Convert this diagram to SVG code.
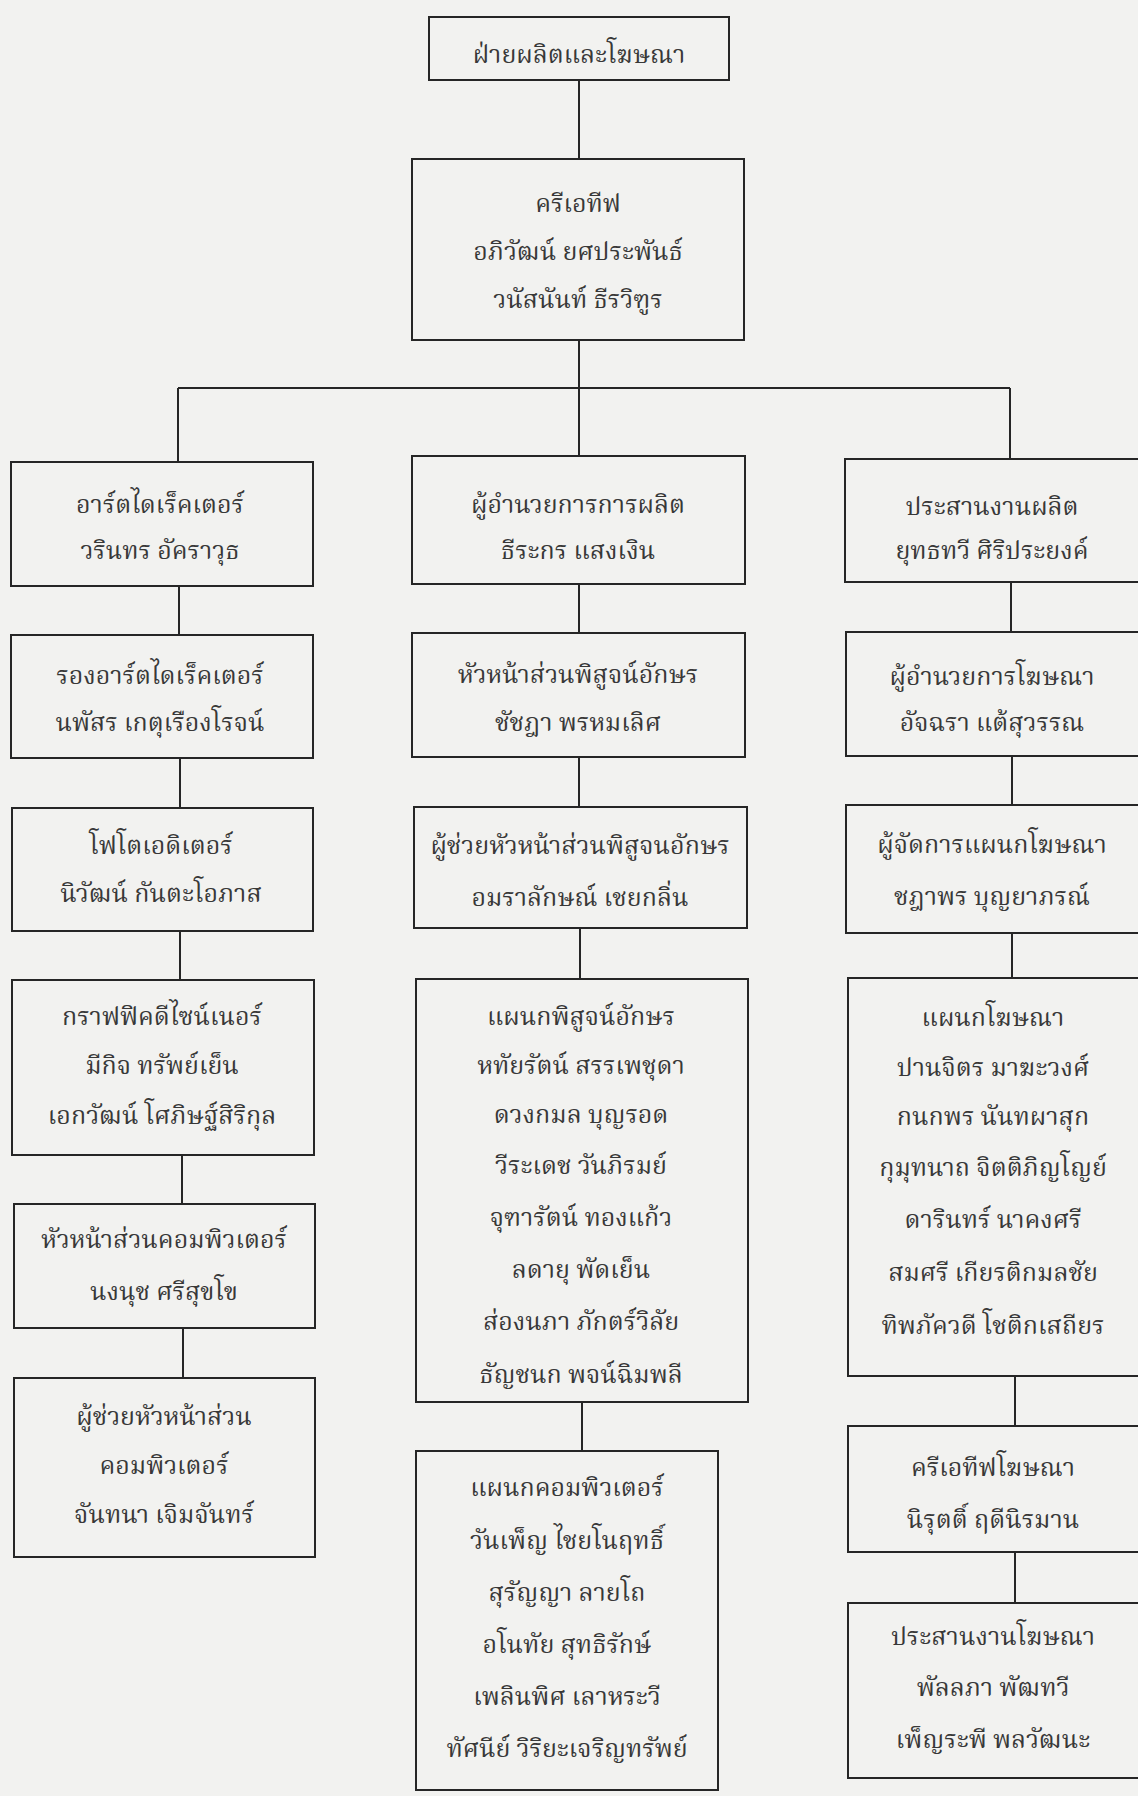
<svg xmlns="http://www.w3.org/2000/svg" width="1138" height="1796" viewBox="0 0 1138 1796">
<style>
.bg{fill:#f2f2f0}
.box{fill:none;stroke:#262626;stroke-width:2}
.ln{fill:none;stroke:#262626;stroke-width:2}
text{font-family:"Liberation Serif","DejaVu Serif","Noto Serif Thai","Noto Sans",serif;font-size:25px;fill:#383838;text-anchor:middle}
</style>
<rect class="bg" x="0" y="0" width="1138" height="1796"/>
<g id="connectors">
<path class="ln" d="M579 80V159M579 340V388M178 388H1010M178 388V462M579 388V456M1010 388V459"/>
<path class="ln" d="M179 586V635M180 758V808M180 931V980M182 1155V1204M183 1328V1378"/>
<path class="ln" d="M579 584V633M579 757V807M580 928V979M582 1402V1451"/>
<path class="ln" d="M1011 582V632M1012 756V805M1012 933V978M1015 1376V1426M1015 1552V1603"/>
</g>
<g id="n-top"><rect class="box" x="429" y="17" width="300" height="63"/><text x="579" y="63">ฝ่ายผลิตและโฆษณา</text></g>
<g id="n-creative"><rect class="box" x="412" y="159" width="332" height="181"/>
<text x="578" y="212">ครีเอทีฟ</text><text x="578" y="260">อภิวัฒน์ ยศประพันธ์</text><text x="578" y="308">วนัสนันท์ ธีรวิฑูร</text></g>

<g id="n-l1"><rect class="box" x="11" y="462" width="302" height="124"/><text x="160" y="513">อาร์ตไดเร็คเตอร์</text><text x="160" y="559">วรินทร อัคราวุธ</text></g>
<g id="n-l2"><rect class="box" x="11" y="635" width="302" height="123"/><text x="160" y="684">รองอาร์ตไดเร็คเตอร์</text><text x="160" y="731">นพัสร เกตุเรืองโรจน์</text></g>
<g id="n-l3"><rect class="box" x="12" y="808" width="301" height="123"/><text x="161" y="854">โฟโตเอดิเตอร์</text><text x="161" y="902">นิวัฒน์ กันตะโอภาส</text></g>
<g id="n-l4"><rect class="box" x="12" y="980" width="302" height="175"/><text x="162" y="1025">กราฟฟิคดีไซน์เนอร์</text><text x="162" y="1074">มีกิจ ทรัพย์เย็น</text><text x="162" y="1124">เอกวัฒน์ โศภิษฐ์สิริกุล</text></g>
<g id="n-l5"><rect class="box" x="14" y="1204" width="301" height="124"/><text x="164" y="1248">หัวหน้าส่วนคอมพิวเตอร์</text><text x="164" y="1300">นงนุช ศรีสุขโข</text></g>
<g id="n-l6"><rect class="box" x="14" y="1378" width="301" height="179"/><text x="164" y="1425">ผู้ช่วยหัวหน้าส่วน</text><text x="164" y="1474">คอมพิวเตอร์</text><text x="164" y="1523">จันทนา เจิมจันทร์</text></g>

<g id="n-m1"><rect class="box" x="412" y="456" width="333" height="128"/><text x="578" y="513">ผู้อำนวยการการผลิต</text><text x="578" y="559">ธีระกร แสงเงิน</text></g>
<g id="n-m2"><rect class="box" x="412" y="633" width="333" height="124"/><text x="578" y="683">หัวหน้าส่วนพิสูจน์อักษร</text><text x="578" y="731">ชัชฎา พรหมเลิศ</text></g>
<g id="n-m3"><rect class="box" x="414" y="807" width="333" height="121"/><text x="580" y="854">ผู้ช่วยหัวหน้าส่วนพิสูจนอักษร</text><text x="580" y="906">อมราลักษณ์ เชยกลิ่น</text></g>
<g id="n-m4"><rect class="box" x="416" y="979" width="332" height="423"/>
<text x="581" y="1025">แผนกพิสูจน์อักษร</text><text x="581" y="1074">หทัยรัตน์ สรรเพชุดา</text><text x="581" y="1123">ดวงกมล บุญรอด</text><text x="581" y="1174">วีระเดช วันภิรมย์</text><text x="581" y="1226">จุฑารัตน์ ทองแก้ว</text><text x="581" y="1278">ลดายุ พัดเย็น</text><text x="581" y="1330">ส่องนภา ภักตร์วิลัย</text><text x="581" y="1383">ธัญชนก พจน์ฉิมพลี</text></g>
<g id="n-m5"><rect class="box" x="416" y="1451" width="302" height="339"/>
<text x="567" y="1496">แผนกคอมพิวเตอร์</text><text x="567" y="1549">วันเพ็ญ ไชยโนฤทธิ์</text><text x="567" y="1601">สุรัญญา ลายโถ</text><text x="567" y="1653">อโนทัย สุทธิรักษ์</text><text x="567" y="1705">เพลินพิศ เลาหระวี</text><text x="567" y="1757">ทัศนีย์ วิริยะเจริญทรัพย์</text></g>

<g id="n-r1"><rect class="box" x="845" y="459" width="300" height="123"/><text x="992" y="515">ประสานงานผลิต</text><text x="992" y="559">ยุทธทวี ศิริประยงค์</text></g>
<g id="n-r2"><rect class="box" x="846" y="632" width="300" height="124"/><text x="992" y="685">ผู้อำนวยการโฆษณา</text><text x="992" y="731">อัจฉรา แต้สุวรรณ</text></g>
<g id="n-r3"><rect class="box" x="846" y="805" width="300" height="128"/><text x="992" y="853">ผู้จัดการแผนกโฆษณา</text><text x="992" y="905">ชฎาพร บุญยาภรณ์</text></g>
<g id="n-r4"><rect class="box" x="848" y="978" width="300" height="398"/>
<text x="993" y="1026">แผนกโฆษณา</text><text x="993" y="1076">ปานจิตร มาฆะวงศ์</text><text x="993" y="1125">กนกพร นันทผาสุก</text><text x="993" y="1176">กุมุทนาถ จิตติภิญโญย์</text><text x="993" y="1228">ดารินทร์ นาคงศรี</text><text x="993" y="1281">สมศรี เกียรติกมลชัย</text><text x="993" y="1334">ทิพภัควดี โชติกเสถียร</text></g>
<g id="n-r5"><rect class="box" x="848" y="1426" width="300" height="126"/><text x="993" y="1476">ครีเอทีฟโฆษณา</text><text x="993" y="1528">นิรุตติ์ ฤดีนิรมาน</text></g>
<g id="n-r6"><rect class="box" x="848" y="1603" width="300" height="175"/><text x="993" y="1645">ประสานงานโฆษณา</text><text x="993" y="1696">พัลลภา พัฒทวี</text><text x="993" y="1748">เพ็ญระพี พลวัฒนะ</text></g>
</svg>
